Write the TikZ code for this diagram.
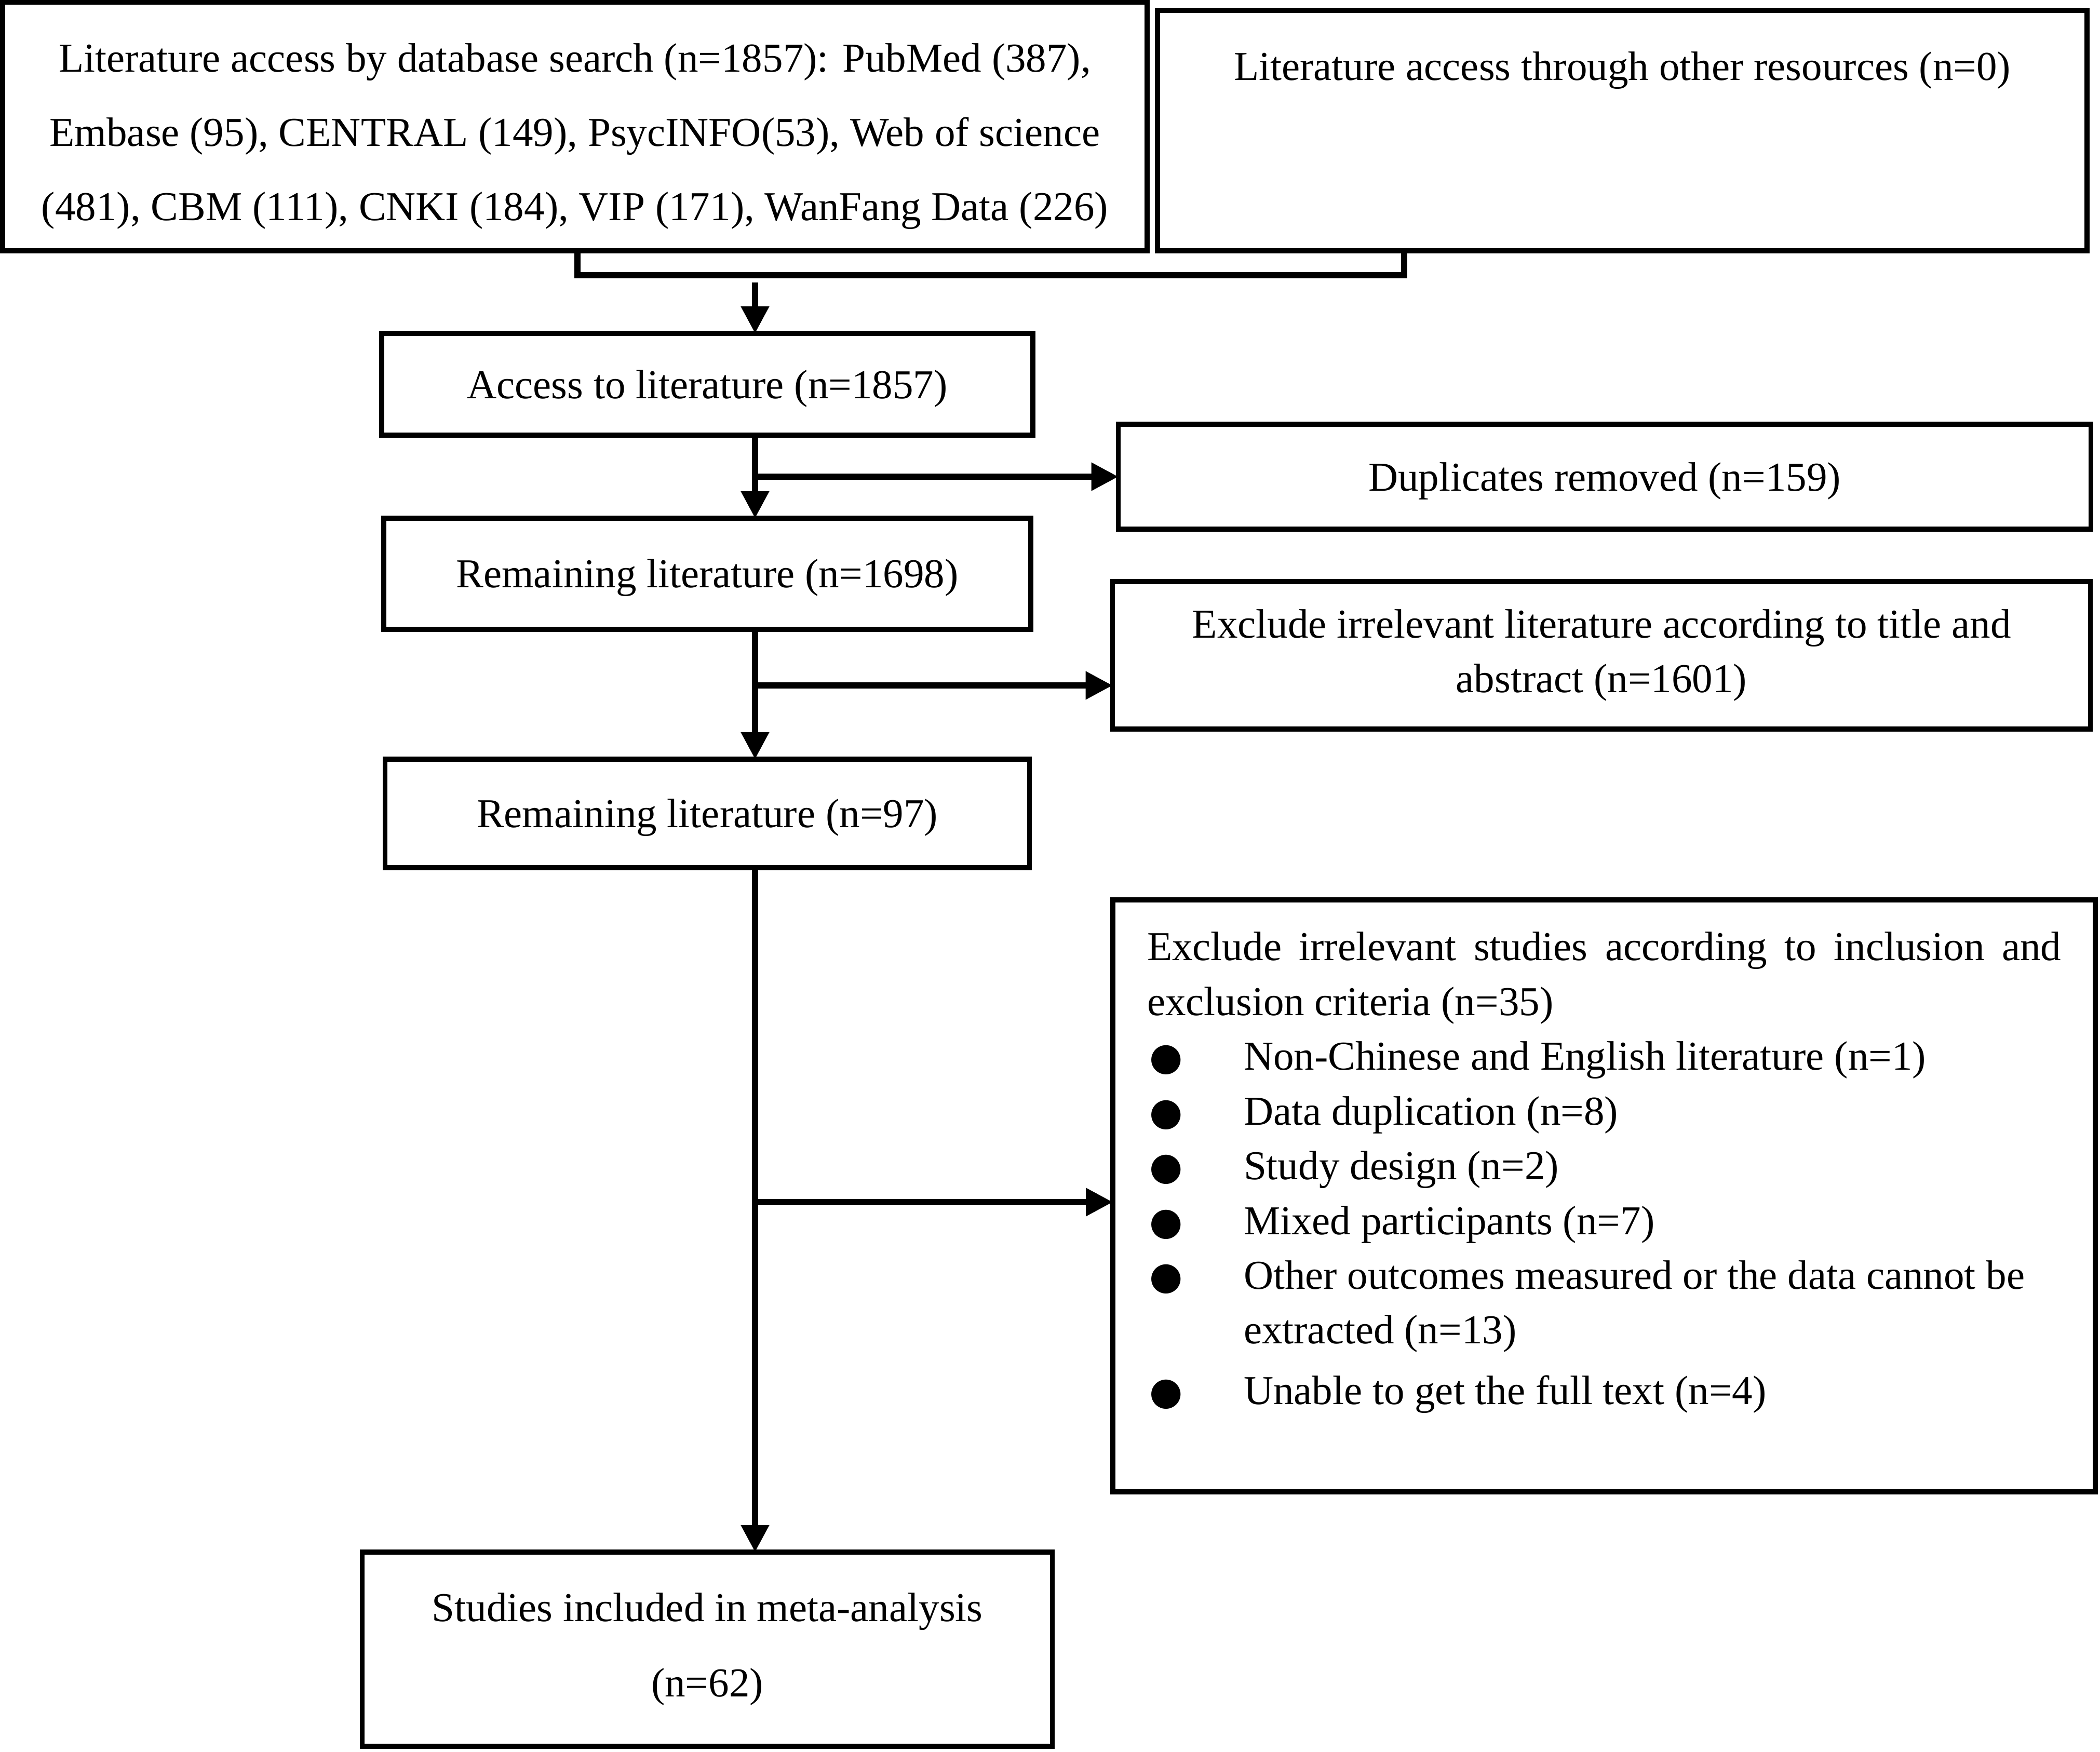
\documentclass[tikz,border=0pt]{standalone}
\usepackage{fontspec}
\setmainfont{Liberation Serif}
\newfontfamily\dotfont{DejaVu Sans}
\usepackage{tikz}
\usetikzlibrary{positioning,arrows.meta}
\newcommand{\critem}[1]{\par\noindent\hangindent=0.93cm\hangafter=1\makebox[0.93cm][l]{\hspace{0.02cm}{\dotfont\fontsize{10.5}{10}\selectfont ●}}#1}

\begin{document}
\begin{tikzpicture}[
    every node/.style={font=\fontsize{11.25}{15}\selectfont},
    box/.style={draw, line width=1.4pt, align=center, inner sep=0pt, outer sep=0pt},
    lowtext/.style={text height=0.355cm},
    arr/.style={-{Triangle[length=0.26cm,width=0.26cm]}, line width=1.6pt},
    conn/.style={line width=1.6pt}
]
    \useasboundingbox (0,0) rectangle (20.22,-16.87);

    % sources
    \node[box, anchor=north west, inner xsep=0.06cm, inner ysep=0.40cm,
          font=\fontsize{11.25}{20.3}\selectfont] (search) at (0.025,-0.02)
        {\parbox[c][1.595cm][t]{10.9cm}{\centering
         Literature access by database search (n=1857): PubMed (387),\\
         Embase (95), CENTRAL (149), PsycINFO(53), Web of science\\
         (481), CBM (111), CNKI (184), VIP (171), WanFang Data (226)}};
    \node[box, anchor=north west, inner xsep=0.025cm, inner ysep=0.40cm] (other) at (11.145,-0.10)
        {\parbox[c][1.515cm][t]{8.9cm}{\centering Literature access through other resources (n=0)}};

    % main column
    \node[box, lowtext, minimum width=6.27cm, minimum height=0.98cm] (access) at (6.81,-3.70)
        {Access to literature (n=1857)};
    \node[box, lowtext, below=0.80cm of access, minimum width=6.23cm, minimum height=1.07cm] (rem1)
        {Remaining literature (n=1698)};
    \node[box, lowtext, below=1.25cm of rem1, minimum width=6.205cm, minimum height=1.045cm] (rem2)
        {Remaining literature (n=97)};
    \node[box, below=6.59cm of rem2, minimum width=6.645cm, minimum height=1.87cm,
          font=\fontsize{11.25}{20.5}\selectfont] (incl)
        {Studies included in meta-analysis\\(n=62)};

    % exclusions
    \node[box, lowtext, minimum width=9.365cm, minimum height=1.01cm] (dup) at (15.45,-4.59)
        {Duplicates removed (n=159)};
    \node[box, minimum width=9.415cm, minimum height=1.42cm] (title) at (15.42,-6.31)
        {Exclude irrelevant literature according to title and\\abstract (n=1601)};
    \node[box, anchor=north west, inner xsep=0.33cm, inner ysep=0.31cm] (crit) at (10.715,-8.665)
        {\parbox[c][5.08cm][t]{8.8cm}{\hyphenpenalty=10000\exhyphenpenalty=10000
         Exclude irrelevant studies according to inclusion and
         exclusion criteria (n=35)\par\raggedright
         \critem{Non-Chinese and English literature (n=1)}
         \critem{Data duplication (n=8)}
         \critem{Study design (n=2)}
         \critem{Mixed participants (n=7)}
         \critem{Other outcomes measured or the data cannot be extracted (n=13)}
         \par\vspace{1.6pt}
         \critem{Unable to get the full text (n=4)}}};

    \coordinate (jl) at (5.56,-2.65);
    \coordinate (jr) at (13.52,-2.65);
    \coordinate (spine) at (7.27,-2.72);

    \draw[conn] (search.south -| jl) -- (jl) -- (jr) -- (other.south -| jr);
    \draw[arr] (spine) -- (access.north -| spine);
    \draw[arr] (access.south -| spine) -- (rem1.north -| spine);
    \draw[arr] (dup.west -| spine) -- (dup.west);
    \draw[arr] (rem1.south -| spine) -- (rem2.north -| spine);
    \draw[arr] ([yshift=-0.29cm]title.west -| spine) -- ([yshift=-0.29cm]title.west);
    \draw[arr] (rem2.south -| spine) -- (incl.north -| spine);
    \draw[arr] ([yshift=-0.06cm]crit.west -| spine) -- ([yshift=-0.06cm]crit.west);
\end{tikzpicture}
\end{document}
